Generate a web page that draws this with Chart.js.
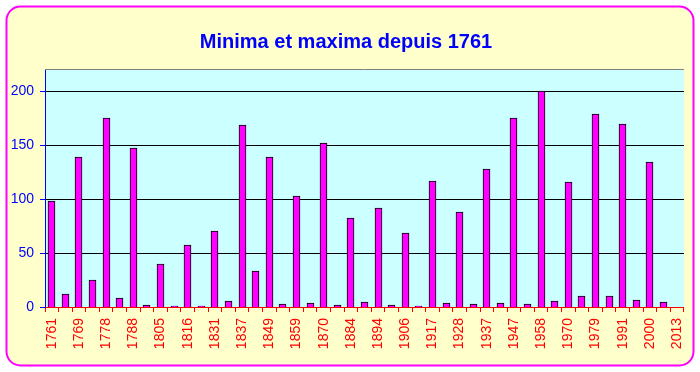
<!DOCTYPE html>
<html>
<head>
<meta charset="utf-8">
<script src="https://cdn.jsdelivr.net/npm/chart.js@4.4.1/dist/chart.umd.min.js"></script>
<style>
  html, body { margin: 0; padding: 0; background: #ffffff; }
  #wrap { width: 700px; height: 372px; }
</style>
</head>
<body>
<div id="wrap"><canvas id="solarChart" width="700" height="372"></canvas></div>
<script>
// years of solar maxima / minima (alternating)
const years = [
  "1761", "1766", "1769", "1775", "1778", "1784", "1788", "1798", "1805", "1810",
  "1816", "1823", "1831", "1833", "1837", "1843", "1849", "1856", "1859", "1867",
  "1870", "1878", "1884", "1889", "1894", "1901", "1906", "1913", "1917", "1923",
  "1928", "1933", "1937", "1944", "1947", "1954", "1958", "1964", "1970", "1976",
  "1979", "1986", "1991", "1996", "2000", "2008", "2013"
];

// sunspot number at each extreme
const values = [
  98, 12, 139, 25, 175, 8, 148, 1.5, 40, 0.8,
  58, 0.8, 71, 5.5, 168.5, 33.4, 139, 2.5, 103.5, 3.4,
  151.8, 1.5, 82.2, 4.3, 91.5, 1.5, 68.3, 0.8, 117.4, 3.4,
  87.8, 2.5, 127.7, 3.4, 175.9, 2.5, 200.9, 5.5, 115.6, 9.9,
  178.7, 9.9, 170.3, 6.5, 134.2, 4.3, null
];

const yTicks = [0, 50, 100, 150, 200];

// fond jaune + cadre arrondi magenta + zone de tracé cyan
const backdrop = {
  id: "backdrop",
  beforeDraw(chart) {
    const c = chart.ctx;
    const a = chart.chartArea;
    c.save();
    c.fillStyle = "#ffffff";
    c.fillRect(0, 0, chart.width, chart.height);
    c.beginPath();
    c.roundRect(6.5, 6.5, 687, 359, 14);
    c.fillStyle = "#ffffcc";
    c.fill();
    c.lineWidth = 2;
    c.strokeStyle = "#ff00ff";
    c.stroke();
    c.fillStyle = "#ccffff";
    c.fillRect(a.left, a.top, a.right - a.left, a.bottom - a.top);
    c.beginPath();
    c.moveTo(a.left, a.top - 0.5);
    c.lineTo(a.right, a.top - 0.5);
    c.lineWidth = 1;
    c.strokeStyle = "#808080";
    c.stroke();
    c.restore();
  }
};

// cale les barres sur les pixels pour des contours nets
const snapBars = {
  id: "snapBars",
  afterUpdate(chart) {
    chart.getDatasetMeta(0).data.forEach((bar) => {
      bar.x = Math.round(bar.x - 0.5) + 0.5;
      bar.y = Math.round(bar.y);
      bar.base = Math.round(bar.base);
    });
  }
};

const ctx = document.getElementById("solarChart").getContext("2d");
new Chart(ctx, {
  type: "bar",
  data: {
    labels: years,
    datasets: [{
      data: values,
      backgroundColor: "#ff00ff",
      borderColor: "#000000",
      borderWidth: 1,
      barThickness: 7
    }]
  },
  options: {
    responsive: false,
    animation: false,
    layout: { padding: { left: 0, right: 8, top: 0, bottom: 0 } },
    plugins: {
      legend: { display: false },
      tooltip: { enabled: false },
      title: {
        display: true,
        text: "Minima et maxima depuis 1761",
        color: "#0000ff",
        font: { family: "Arial, 'Liberation Sans'", size: 20, weight: "bold" },
        padding: { top: 30, bottom: 16 }
      }
    },
    scales: {
      x: {
        grid: {
          display: true,
          drawOnChartArea: false,
          drawTicks: true,
          tickColor: "#ff0000",
          tickLength: 5,
          offset: true
        },
        border: { display: true, color: "#ff0000", width: 1 },
        ticks: {
          autoSkip: false,
          minRotation: 90,
          maxRotation: 90,
          padding: 6,
          color: "#ff0000",
          font: { family: "Arial, 'Liberation Sans'", size: 14 },
          callback: function (value, index) {
            return index % 2 === 0 ? years[index] : "";
          }
        },
        afterFit: (scale) => { scale.height = 65; }
      },
      y: {
        min: 0,
        max: 220,
        afterBuildTicks: (scale) => { scale.ticks = yTicks.map((v) => ({ value: v })); },
        grid: {
          color: (c) => (c.tick && c.tick.value === 0 ? "rgba(0,0,0,0)" : "#000000"),
          lineWidth: 1,
          tickColor: "#0000ff",
          tickLength: 5
        },
        border: { display: true, color: "#0000ff", width: 1 },
        ticks: {
          color: "#0000ff",
          padding: 6,
          font: { family: "Arial, 'Liberation Sans'", size: 14 }
        },
        afterFit: (scale) => { scale.width = 45; }
      }
    }
  },
  plugins: [backdrop, snapBars]
});
</script>
</body>
</html>
